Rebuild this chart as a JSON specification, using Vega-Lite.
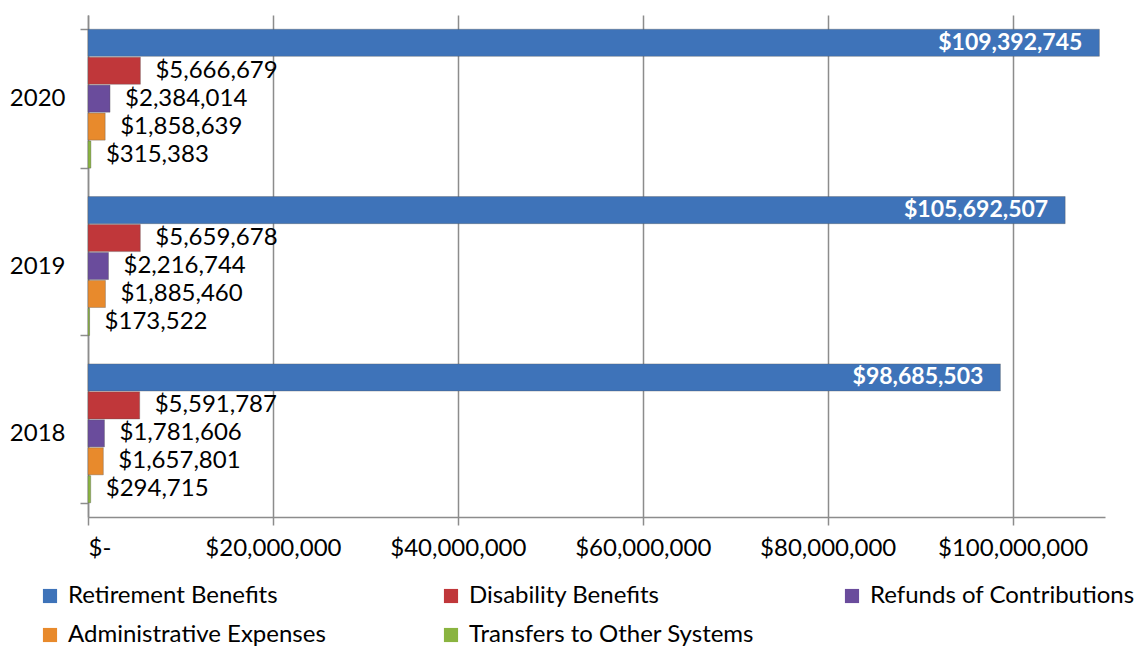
{
  "$schema": "https://vega.github.io/schema/vega-lite/v6.json",
  "width": 1017,
  "height": 502,
  "autosize": "none",
  "padding": {"left": 88, "top": 15, "right": 37, "bottom": 133},
  "background": "white",
  "config": {
    "view": {"stroke": null},
    "font": "Lato",
    "axis": {"labelFont": "Lato", "labelFontSize": 24, "labelColor": "#000000", "domainColor": "#8c8c8c", "tickColor": "#8c8c8c", "domainWidth": 1.5, "tickWidth": 1.5}
  },
  "data": {
    "values": [
      {"year": "2020", "category": "Retirement Benefits", "value": 109392745},
      {"year": "2020", "category": "Disability Benefits", "value": 5666679},
      {"year": "2020", "category": "Refunds of Contributions", "value": 2384014},
      {"year": "2020", "category": "Administrative Expenses", "value": 1858639},
      {"year": "2020", "category": "Transfers to Other Systems", "value": 315383},
      {"year": "2019", "category": "Retirement Benefits", "value": 105692507},
      {"year": "2019", "category": "Disability Benefits", "value": 5659678},
      {"year": "2019", "category": "Refunds of Contributions", "value": 2216744},
      {"year": "2019", "category": "Administrative Expenses", "value": 1885460},
      {"year": "2019", "category": "Transfers to Other Systems", "value": 173522},
      {"year": "2018", "category": "Retirement Benefits", "value": 98685503},
      {"year": "2018", "category": "Disability Benefits", "value": 5591787},
      {"year": "2018", "category": "Refunds of Contributions", "value": 1781606},
      {"year": "2018", "category": "Administrative Expenses", "value": 1657801},
      {"year": "2018", "category": "Transfers to Other Systems", "value": 294715}
    ]
  },
  "encoding": {
    "y": {
      "field": "year", "type": "nominal", "sort": ["2020", "2019", "2018"],
      "scale": {"paddingInner": 0.17, "paddingOuter": 0.085},
      "axis": {"title": null, "tickBand": "extent", "tickSize": 8, "labelPadding": 15, "labelFontSize": 24}
    },
    "yOffset": {
      "field": "category", "type": "nominal",
      "sort": ["Retirement Benefits", "Disability Benefits", "Refunds of Contributions", "Administrative Expenses", "Transfers to Other Systems"],
      "scale": {"paddingInner": 0.03}
    },
    "x": {
      "field": "value", "type": "quantitative",
      "scale": {"domain": [0, 110000000], "nice": false},
      "axis": {
        "title": null, "values": [0, 20000000, 40000000, 60000000, 80000000, 100000000],
        "grid": true, "gridColor": "#8c8c8c", "gridWidth": 1.5, "tickSize": 8, "labelPadding": 11,
        "labelExpr": "datum.value == 0 ? '$-' : '$' + format(datum.value, ',.0f')"
      }
    }
  },
  "layer": [
    {
      "mark": {"type": "bar", "stroke": "#555555", "strokeOpacity": 0.35, "strokeWidth": 1},
      "encoding": {
        "color": {
          "field": "category", "type": "nominal",
          "scale": {
            "domain": ["Retirement Benefits", "Disability Benefits", "Refunds of Contributions", "Administrative Expenses", "Transfers to Other Systems"],
            "range": ["#3e73b9", "#c0373a", "#6a4c9c", "#e88a2c", "#8ab440"]
          },
          "legend": {
            "title": null, "orient": "none", "legendX": -50, "legendY": 569, "padding": 0,
            "direction": "horizontal", "columns": 3, "gridAlign": "all", "columnPadding": 86, "rowPadding": 15,
            "symbolType": "square", "symbolSize": 200, "symbolStrokeWidth": 0,
            "labelFont": "Lato", "labelFontSize": 24, "labelColor": "#000000", "labelLimit": 400, "labelOffset": 6
          }
        }
      }
    },
    {
      "transform": [{"filter": "datum.category != 'Retirement Benefits'"}],
      "mark": {"type": "text", "align": "left", "baseline": "middle", "dx": 15, "fontSize": 24, "font": "Lato", "color": "#000000"},
      "encoding": {"text": {"field": "value", "type": "quantitative", "format": "$,.0f"}}
    },
    {
      "transform": [{"filter": "datum.category == 'Retirement Benefits'"}],
      "mark": {"type": "text", "align": "right", "baseline": "middle", "dx": -17, "fontSize": 23, "fontWeight": "bold", "font": "Lato", "color": "#ffffff"},
      "encoding": {"text": {"field": "value", "type": "quantitative", "format": "$,.0f"}}
    }
  ]
}
